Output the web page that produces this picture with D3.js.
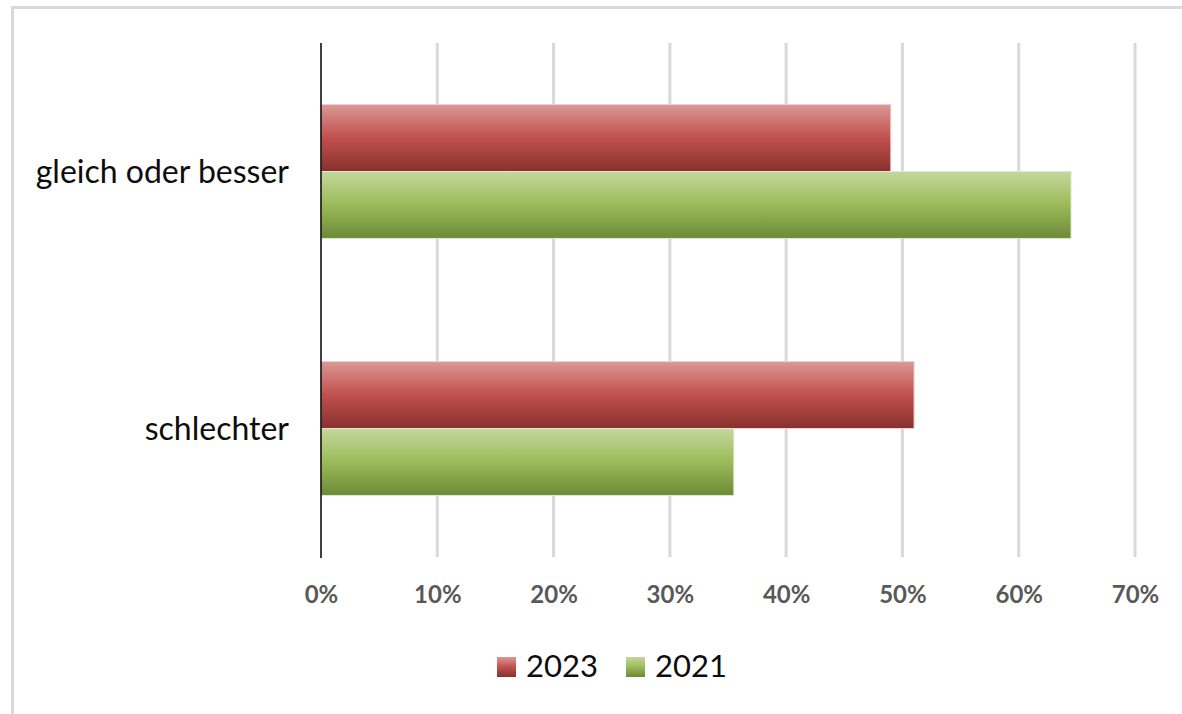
<!DOCTYPE html>
<html>
<head>
<meta charset="utf-8">
<script src="https://cdn.jsdelivr.net/npm/d3@7"></script>
<style>
  body { margin: 0; background: #fff; }
  text { font-family: Lato, "Open Sans", sans-serif; }
</style>
</head>
<body>
<script>
// chart data
var categories = ["gleich oder besser", "schlechter"];
var seriesNames = ["2023", "2021"];
var values2023 = [0.49, 0.51];
var values2021 = [0.645, 0.355];
var tickValues = [0, 0.1, 0.2, 0.3, 0.4, 0.5, 0.6, 0.7];

var w = 1182, h = 714;

var svg = d3.select("body")
    .append("svg")
    .attr("width", w)
    .attr("height", h);

// gradients for the bars (Excel style)
var defs = svg.append("defs");
var gradStops = {
    "2023": ["#da9896", "#c0504d", "#88302e"],
    "2021": ["#c4d79d", "#9bbb59", "#6c8a37"]
};
seriesNames.forEach(function(s) {
    var g = defs.append("linearGradient")
        .attr("id", "grad" + s)
        .attr("x1", 0).attr("y1", 0)
        .attr("x2", 0).attr("y2", 1);
    g.append("stop").attr("offset", "0%").attr("stop-color", gradStops[s][0]);
    g.append("stop").attr("offset", "50%").attr("stop-color", gradStops[s][1]);
    g.append("stop").attr("offset", "100%").attr("stop-color", gradStops[s][2]);
});

// outer frame
svg.append("rect")
    .attr("x", 12.5)
    .attr("y", 7.5)
    .attr("width", w)
    .attr("height", h)
    .attr("fill", "none")
    .attr("stroke", "#d9d9d9")
    .attr("stroke-width", 3);

var plotTop = 43, plotBottom = 557;

var xScale = d3.scaleLinear()
    .domain([0, 0.7])
    .range([321, 1135]);

var yScale = d3.scaleBand()
    .domain(categories)
    .range([plotTop, plotBottom])
    .paddingInner(0.479)
    .paddingOuter(0.2395);

var ySub = d3.scaleBand()
    .domain(seriesNames)
    .range([0, yScale.bandwidth()]);

// vertical gridlines
svg.append("g")
    .selectAll("line")
    .data(tickValues.slice(1))
    .enter()
    .append("line")
    .attr("x1", function(d) { return xScale(d); })
    .attr("x2", function(d) { return xScale(d); })
    .attr("y1", plotTop)
    .attr("y2", plotBottom)
    .attr("stroke", "#d9d9d9")
    .attr("stroke-width", 3);

// bars
var rows = categories.map(function(c, i) {
    return [
        { cat: c, series: "2023", value: values2023[i] },
        { cat: c, series: "2021", value: values2021[i] }
    ];
});
var allBars = [].concat.apply([], rows);

svg.append("g")
    .selectAll("rect")
    .data(allBars)
    .enter()
    .append("rect")
    .attr("x", xScale(0))
    .attr("y", function(d) { return yScale(d.cat) + ySub(d.series); })
    .attr("width", function(d) { return xScale(d.value) - xScale(0); })
    .attr("height", ySub.bandwidth())
    .attr("fill", function(d) { return "url(#grad" + d.series + ")"; })
    .attr("stroke", function(d) { return d.series === "2023" ? "#f0d0cf" : "#dfeac8"; })
    .attr("stroke-width", 1);

// vertical axis line
svg.append("line")
    .attr("x1", xScale(0))
    .attr("x2", xScale(0))
    .attr("y1", plotTop)
    .attr("y2", plotBottom + 1)
    .attr("stroke", "#000")
    .attr("stroke-width", 1.5);

// category labels
svg.append("g")
    .selectAll("text")
    .data(categories)
    .enter()
    .append("text")
    .attr("x", 289)
    .attr("y", function(d) { return yScale(d) + yScale.bandwidth() / 2; })
    .attr("dy", "0.35em")
    .attr("text-anchor", "end")
    .attr("font-size", 32)
    .attr("fill", "#0d0d0d")
    .text(function(d) { return d; });

// x axis tick labels
var xAxis = d3.axisBottom(xScale)
    .tickValues(tickValues)
    .tickFormat(d3.format(".0%"))
    .tickSize(0)
    .tickPadding(0);

var axisG = svg.append("g")
    .attr("transform", "translate(0,586)")
    .call(xAxis);
axisG.select(".domain").remove();
axisG.selectAll("text")
    .attr("font-family", "Lato, sans-serif")
    .attr("font-size", 24)
    .attr("font-weight", "bold")
    .attr("fill", "#595959");

// legend
var legendItems = [
    { name: "2023", x: 497 },
    { name: "2021", x: 626 }
];
var legend = svg.append("g")
    .selectAll("g")
    .data(legendItems)
    .enter()
    .append("g")
    .attr("transform", function(d) { return "translate(" + d.x + ",657)"; });
legend.append("rect")
    .attr("width", 19)
    .attr("height", 20)
    .attr("fill", function(d) { return "url(#grad" + d.name + ")"; });
legend.append("text")
    .attr("x", 29)
    .attr("y", 20)
    .attr("font-size", 31)
    .attr("fill", "#0d0d0d")
    .text(function(d) { return d.name; });
</script>
</body>
</html>
